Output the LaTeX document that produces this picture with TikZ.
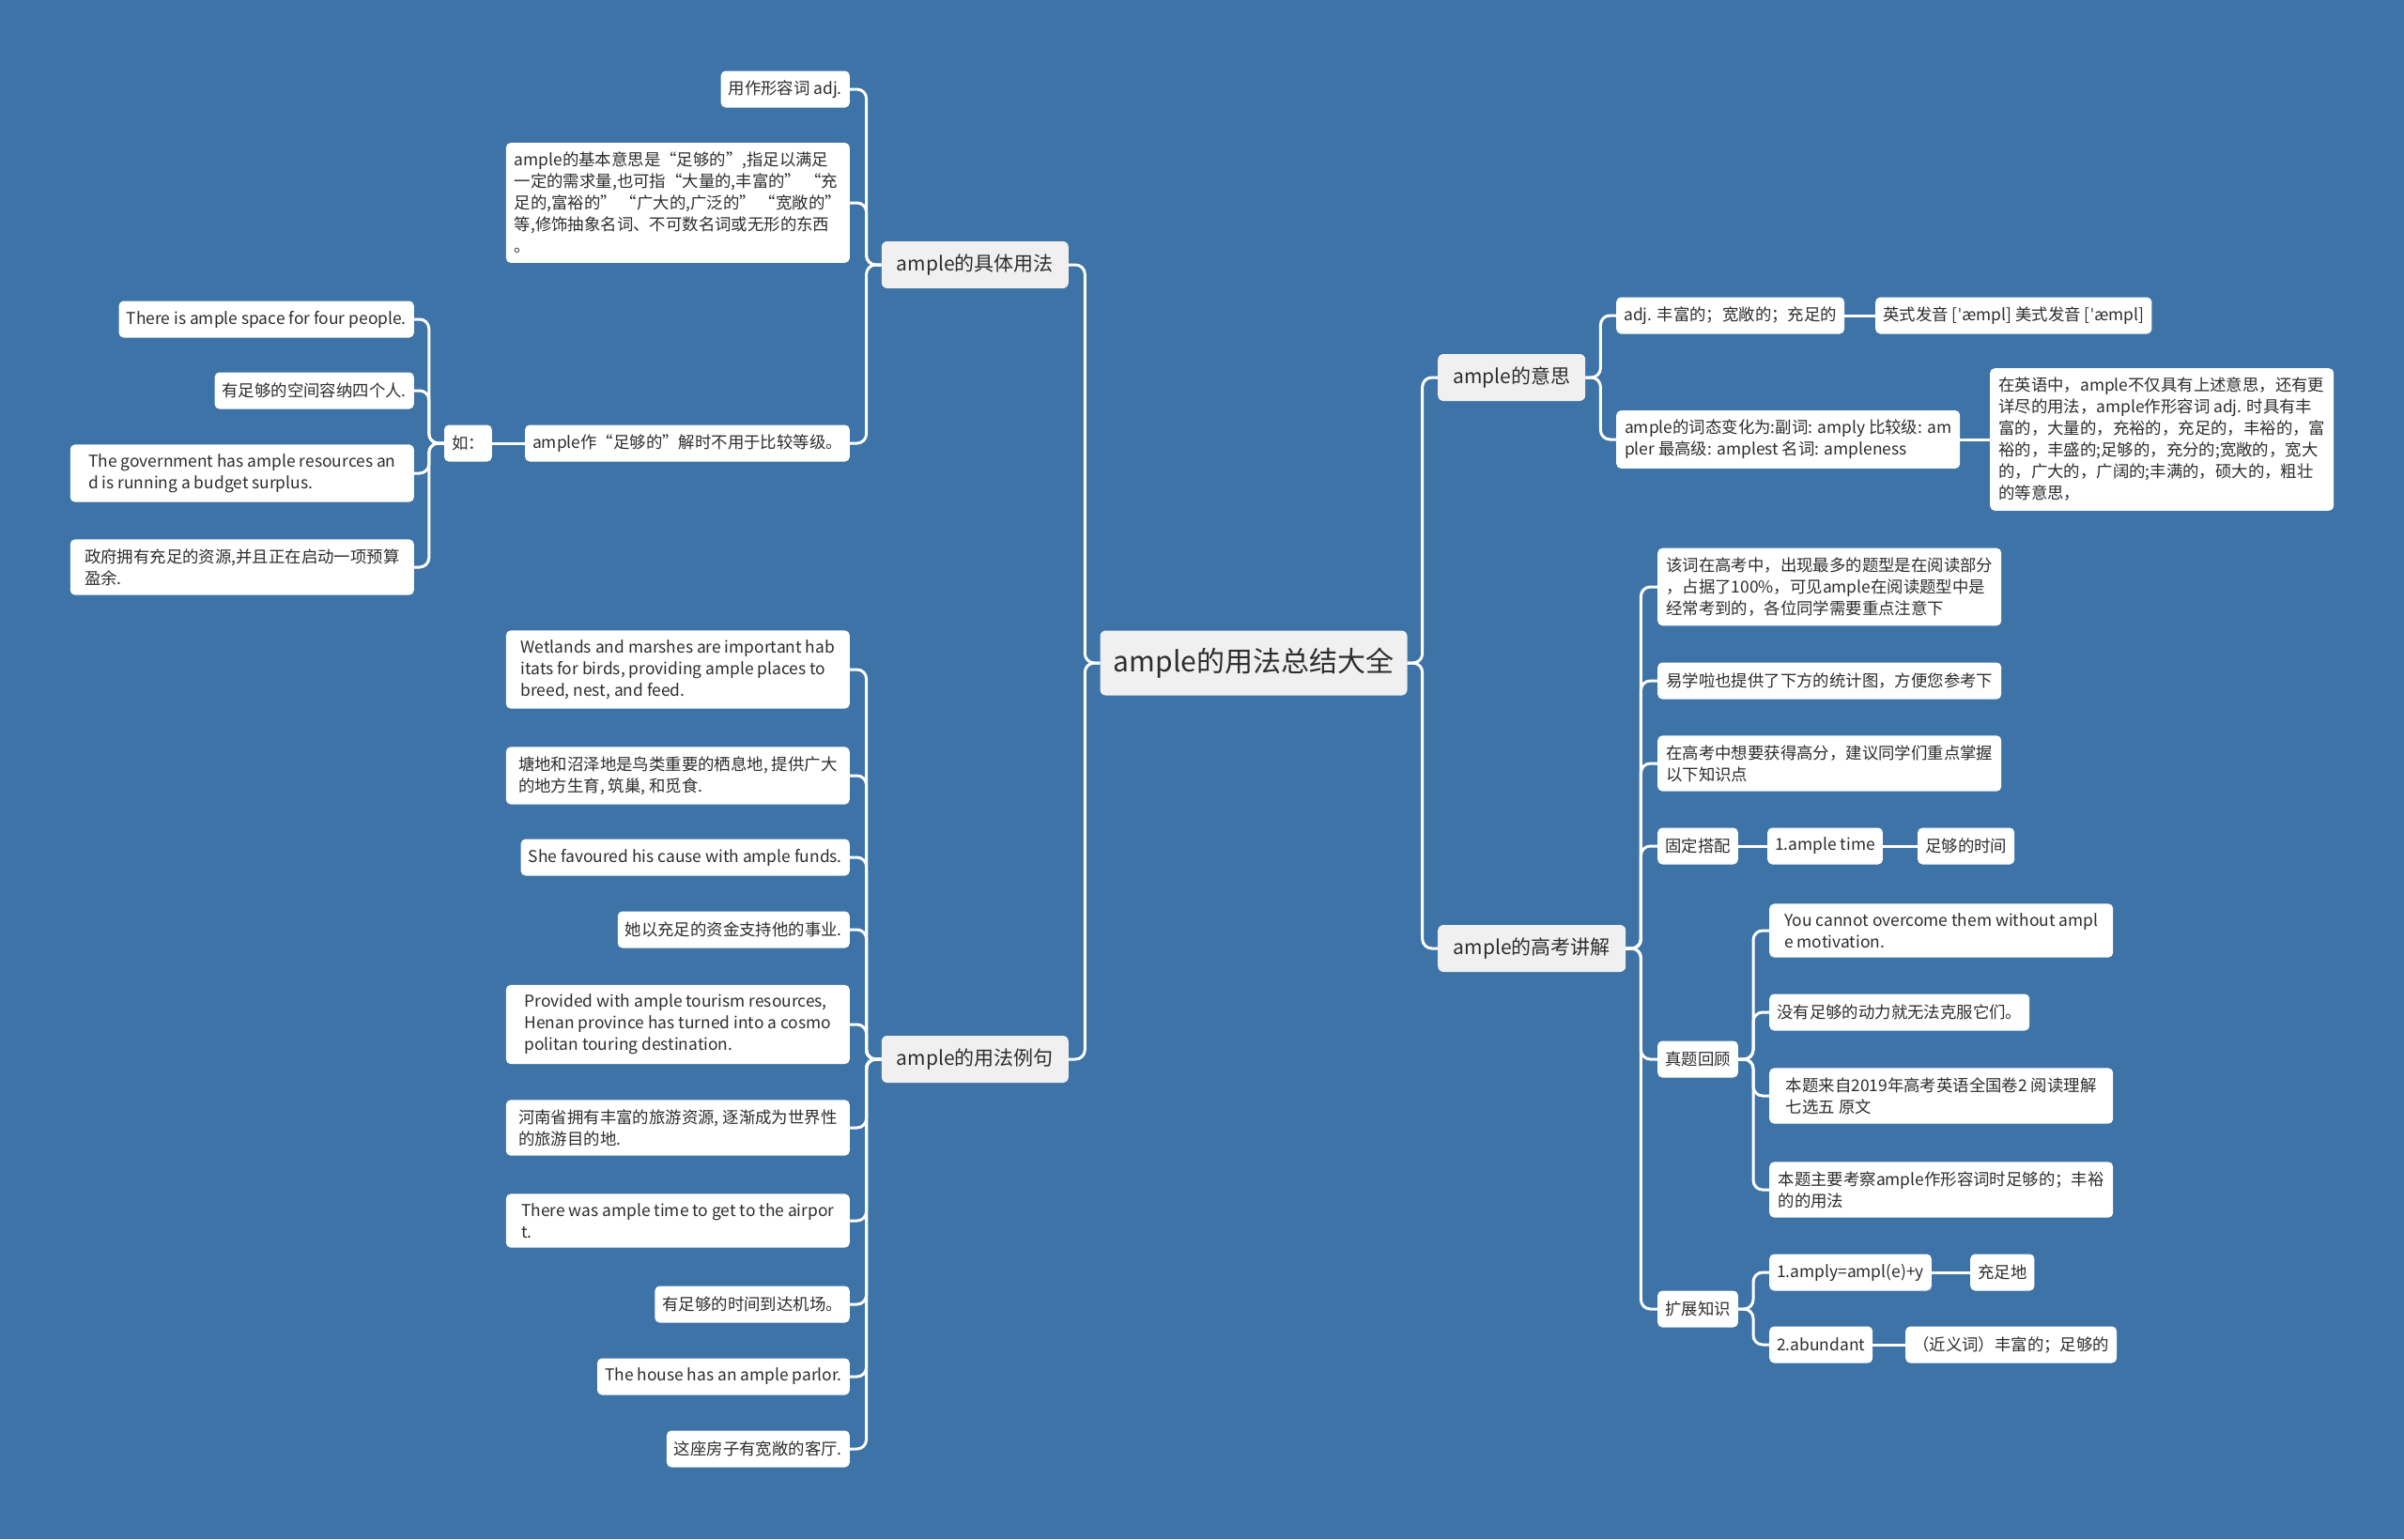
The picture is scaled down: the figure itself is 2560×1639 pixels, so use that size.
\documentclass[tikz,border=0pt]{standalone}
\usepackage{fontspec}
\setmainfont{Noto Sans CJK SC}
\newfontfamily\ipafont{DejaVu Sans}
\definecolor{bgblue}{RGB}{61,115,166}
\definecolor{topicgray}{RGB}{240,240,240}
\definecolor{inkgray}{RGB}{45,45,45}
\tikzset{
  topic/.style={fill=topicgray, text=inkgray, rounded corners=6pt,
    font=\fontsize{30}{36}\selectfont, minimum width=327pt, minimum height=69pt},
  branch/.style={fill=topicgray, text=inkgray, rounded corners=6pt,
    font=\fontsize{21}{26}\selectfont, minimum height=50pt, minimum width=#1},
  branch/.default=199pt,
  leaf/.style={fill=white, text=inkgray, rounded corners=5pt,
    font=\fontsize{17.4}{23}\selectfont, align=left,
    inner xsep=8pt, inner ysep=10pt, minimum height=39pt, minimum width=#1},
  leaf/.default=0pt,
  link/.style={draw=white, line width=3pt, rounded corners=10pt},
  toL/.style={to path={-- ++(-16,0) |- (\tikztotarget)}},
  toR/.style={to path={-- ++(16,0) |- (\tikztotarget)}},
}
\begin{document}
\begin{tikzpicture}[x=1pt,y=-1pt]
  \useasboundingbox (0,0) rectangle (2560,1639);
  \fill[bgblue] (0,0) rectangle (2560,1639);

  % centre
  \node[topic] (root) at (1335,706) {ample的用法总结大全};

  % main branches
  \node[branch, anchor=east] (b1) at (1138,282) {ample的具体用法};
  \node[branch, anchor=east] (b2) at (1138,1128) {ample的用法例句};
  \node[branch=157pt, anchor=west] (b3) at (1531,402) {ample的意思};
  \node[branch=200pt, anchor=west] (b4) at (1531,1010) {ample的高考讲解};

  % ample的具体用法
  \node[leaf, anchor=east] (c1) at (905,95) {用作形容词 adj.};
  \node[leaf=366pt, anchor=east] (c2) at (905,216) {ample的基本意思是“足够的”,指足以满足\\一定的需求量,也可指“大量的,丰富的” “充\\足的,富裕的” “广大的,广泛的” “宽敞的”\\等,修饰抽象名词、不可数名词或无形的东西\\。};
  \node[leaf, anchor=east] (c3) at (905,472) {ample作“足够的”解时不用于比较等级。};
  \node[leaf, anchor=east] (c4) at (524,472) {如：};
  \node[leaf, anchor=east] (d1) at (441,340) {There is ample space for four people.};
  \node[leaf, anchor=east] (d2) at (441,416) {有足够的空间容纳四个人.};
  \node[leaf=366pt, anchor=east] (d3) at (441,504) {The government has ample resources an\\d is running a budget surplus.};
  \node[leaf=366pt, anchor=east] (d4) at (441,604) {政府拥有充足的资源,并且正在启动一项预算\\盈余.};

  % ample的用法例句
  \node[leaf=366pt, anchor=east] (e1) at (905,713) {Wetlands and marshes are important hab\\itats for birds, providing ample places to\\breed, nest, and feed.};
  \node[leaf=366pt, anchor=east] (e2) at (905,826) {塘地和沼泽地是鸟类重要的栖息地, 提供广大\\的地方生育, 筑巢, 和觅食.};
  \node[leaf, anchor=east] (e3) at (905,913) {She favoured his cause with ample funds.};
  \node[leaf, anchor=east] (e4) at (905,990) {她以充足的资金支持他的事业.};
  \node[leaf=366pt, anchor=east] (e5) at (905,1091) {Provided with ample tourism resources,\\Henan province has turned into a cosmo\\politan touring destination.};
  \node[leaf=366pt, anchor=east] (e6) at (905,1201) {河南省拥有丰富的旅游资源, 逐渐成为世界性\\的旅游目的地.};
  \node[leaf=366pt, anchor=east] (e7) at (905,1300) {There was ample time to get to the airpor\\t.};
  \node[leaf, anchor=east] (e8) at (905,1389) {有足够的时间到达机场。};
  \node[leaf, anchor=east] (e9) at (905,1466) {The house has an ample parlor.};
  \node[leaf, anchor=east] (e10) at (905,1543) {这座房子有宽敞的客厅.};

  % ample的意思
  \node[leaf, anchor=west] (f1) at (1721,336) {adj. 丰富的；宽敞的；充足的};
  \node[leaf, anchor=west] (f2) at (1997,336) {英式发音 [{\ipafont ˈ}æmpl] 美式发音 [{\ipafont ˈ}æmpl]};
  \node[leaf=366pt, anchor=west] (f3) at (1721,468) {ample的词态变化为:副词: amply 比较级: am\\pler 最高级: amplest 名词: ampleness};
  \node[leaf=366pt, anchor=west] (f4) at (2119,468) {在英语中，ample不仅具有上述意思，还有更\\详尽的用法，ample作形容词 adj. 时具有丰\\富的，大量的，充裕的，充足的，丰裕的，富\\裕的，丰盛的;足够的，充分的;宽敞的，宽大\\的，广大的，广阔的;丰满的，硕大的，粗壮\\的等意思，};

  % ample的高考讲解
  \node[leaf=366pt, anchor=west] (g1) at (1765,625) {该词在高考中，出现最多的题型是在阅读部分\\，占据了100\%，可见ample在阅读题型中是\\经常考到的，各位同学需要重点注意下};
  \node[leaf=366pt, anchor=west] (g2) at (1765,725) {易学啦也提供了下方的统计图，方便您参考下};
  \node[leaf=366pt, anchor=west] (g3) at (1765,813) {在高考中想要获得高分，建议同学们重点掌握\\以下知识点};
  \node[leaf, anchor=west] (g4) at (1765,901) {固定搭配};
  \node[leaf, anchor=west] (h1) at (1882,901) {1.ample time};
  \node[leaf, anchor=west] (h2) at (2042,901) {足够的时间};
  \node[leaf, anchor=west] (g5) at (1765,1128) {真题回顾};
  \node[leaf=366pt, anchor=west] (i1) at (1884,991) {You cannot overcome them without ampl\\e motivation.};
  \node[leaf, anchor=west] (i2) at (1884,1078) {没有足够的动力就无法克服它们。};
  \node[leaf=366pt, anchor=west] (i3) at (1884,1167) {本题来自2019年高考英语全国卷2 阅读理解\\七选五 原文};
  \node[leaf=366pt, anchor=west] (i4) at (1884,1267) {本题主要考察ample作形容词时足够的；丰裕\\的的用法};
  \node[leaf, anchor=west] (g6) at (1765,1394) {扩展知识};
  \node[leaf, anchor=west] (j1) at (1884,1355) {1.amply=ampl(e)+y};
  \node[leaf, anchor=west] (k1) at (2098,1355) {充足地};
  \node[leaf, anchor=west] (j2) at (1884,1432) {2.abundant};
  \node[leaf, anchor=west] (k2) at (2029,1432) {（近义词）丰富的；足够的};

  % connectors
  \draw[link] (root.west) to[toL] (b1.east);
  \draw[link] (root.west) to[toL] (b2.east);
  \draw[link] (root.east) to[toR] (b3.west);
  \draw[link] (root.east) to[toR] (b4.west);
  \foreach \n in {c1,c2,c3}
    \draw[link] (b1.west) to[toL] (\n.east);
  \draw[link] (c3.west) -- (c4.east);
  \foreach \n in {d1,d2,d3,d4}
    \draw[link] (c4.west) to[toL] (\n.east);
  \foreach \n in {e1,e2,e3,e4,e5,e6,e7,e8,e9,e10}
    \draw[link] (b2.west) to[toL] (\n.east);
  \foreach \n in {f1,f3}
    \draw[link] (b3.east) to[toR] (\n.west);
  \draw[link] (f1.east) -- (f2.west);
  \draw[link] (f3.east) -- (f4.west);
  \foreach \n in {g1,g2,g3,g4,g5,g6}
    \draw[link] (b4.east) to[toR] (\n.west);
  \draw[link] (g4.east) -- (h1.west);
  \draw[link] (h1.east) -- (h2.west);
  \foreach \n in {i1,i2,i3,i4}
    \draw[link] (g5.east) to[toR] (\n.west);
  \foreach \n in {j1,j2}
    \draw[link] (g6.east) to[toR] (\n.west);
  \draw[link] (j1.east) -- (k1.west);
  \draw[link] (j2.east) -- (k2.west);
\end{tikzpicture}
\end{document}
